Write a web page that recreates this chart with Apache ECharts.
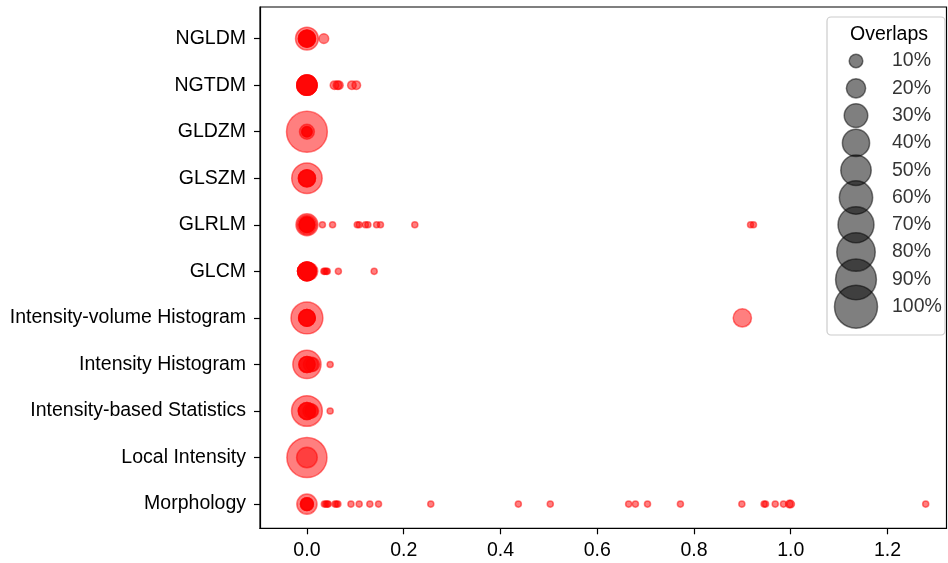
<!DOCTYPE html>
<html>
<head>
<meta charset="utf-8">
<script src="https://cdn.jsdelivr.net/npm/echarts@6/dist/echarts.min.js"></script>
<style>html,body{margin:0;padding:0;background:#fff}#c{width:948px;height:563px}</style>
</head>
<body>
<div id="c"></div>
<script>
// Categories bottom -> top
const categories = ['Morphology','Local Intensity','Intensity-based Statistics','Intensity Histogram','Intensity-volume Histogram','GLCM','GLRLM','GLSZM','GLDZM','NGTDM','NGLDM'];

// Each point: [value, overlap %]
const morphology = [[0,22],[0,9],[0,9],[0,9],[0,8],
  [0.036,2],[0.039,2],[0.042,2],[0.044,2],[0.058,2],[0.061,2],[0.064,2],[0.091,2],[0.108,2],[0.130,2],[0.148,2],[0.256,2],
  [0.437,2],[0.503,2],[0.665,2],[0.679,2],[0.704,2],[0.772,2],[0.899,2],[0.945,2],[0.948,2],[0.968,2],[0.985,2],[0.997,3],[1.0,3],[1.279,2]];
const localIntensity = [[0,87],[0,23]];
const intensityStats = [[0,51],[0,16],[0,16],[0,16],[0.007,12],[0.010,10],[0.048,2]];
const intensityHist = [[0,43],[0,14],[0,14],[0,14],[0.008,12],[0.012,10],[0.048,2]];
const ivh = [[0,55],[0,15],[0,15],[0,15],[0,15],[0.9,18]];
const glcm = [[0,19],[0,19],[0,19],[0,19],[0,19],[0.004,17],[0.035,2],[0.037,2],[0.040,2],[0.042,2],[0.065,2],[0.139,2]];
const glrlm = [[0,26],[0,20],[0,13],[0,13],[0,13],[0,13],[0.032,2],[0.053,2],[0.104,2],[0.108,2],[0.121,2],[0.126,2],[0.144,2],[0.152,2],[0.223,2],[0.917,2],[0.923,2]];
const glszm = [[0,50],[0,16],[0,16],[0,15],[0,15]];
const gldzm = [[0,90],[0,12],[0,6],[0,6],[0,5]];
const ngtdm = [[0,22],[0,22],[0,22],[0,22],[0,22],[0.057,4],[0.063,4],[0.066,4],[0.093,4],[0.102,4]];
const ngldm = [[0,28],[0,16],[0,16],[0,15],[0,15],[0,14],[0.035,5]];

const rows = [morphology, localIntensity, intensityStats, intensityHist, ivh, glcm, glrlm, glszm, gldzm, ngtdm, ngldm];

const xTicks = [0,0.2,0.4,0.6,0.8,1.0,1.2];
const legendLevels = [10,20,30,40,50,60,70,80,90,100];
const legendTitle = 'Overlaps';

const sizeOf = p => 4.3 * Math.sqrt(p);
const FONT = '"Liberation Sans", Arial, sans-serif';
const FS = 19.5;

const mainData = [];
rows.forEach((row, yi) => row.forEach(pt => mainData.push([pt[0], yi, pt[1]])));
const yTicks = categories.map((c, i) => i);

const chart = echarts.init(document.getElementById('c'), null, {renderer: 'canvas'});
chart.setOption({
  animation: false,
  textStyle: {fontFamily: FONT},
  grid: [
    {left: 260, right: 1.5, top: 7, bottom: 34.7, show: true, borderColor: '#000', borderWidth: 1.2, backgroundColor: 'transparent'},
    {left: 856, width: 1, top: 61, height: 245.7}
  ],
  xAxis: [
    {type: 'value', gridIndex: 0, min: -0.097, max: 1.322,
     axisLine: {show: true, onZero: false, lineStyle: {color: '#000', width: 1.2}},
     axisTick: {show: true, inside: false, length: 6, lineStyle: {color: '#000', width: 1.2}, customValues: xTicks},
     axisLabel: {customValues: xTicks, formatter: v => Number(v).toFixed(1), fontSize: FS, color: '#000', margin: 12, fontFamily: FONT},
     splitLine: {show: false}},
    {type: 'value', gridIndex: 1, min: 0, max: 1, show: false}
  ],
  yAxis: [
    {type: 'value', gridIndex: 0, min: -0.52, max: 10.68,
     axisLine: {show: true, onZero: false, lineStyle: {color: '#000', width: 1.2}},
     axisTick: {show: true, inside: false, length: 6, lineStyle: {color: '#000', width: 1.2}, customValues: yTicks},
     axisLabel: {customValues: yTicks, formatter: v => categories[Math.round(v)], fontSize: FS, color: '#000', margin: 14, fontFamily: FONT, padding: [5, 0, 0, 0]},
     splitLine: {show: false}},
    {type: 'value', gridIndex: 1, min: 0, max: 9, inverse: true, show: false}
  ],
  graphic: [
    {type: 'rect', z: 3, shape: {x: 827, y: 17, width: 118, height: 318, r: 4},
     style: {fill: 'rgba(255,255,255,0.8)', stroke: '#cccccc', lineWidth: 1.2}},
    {type: 'text', z: 6, x: 889, y: 35, style: {text: legendTitle, fontSize: FS, fontFamily: FONT, fill: '#000', align: 'center', verticalAlign: 'middle'}}
  ],
  series: [
    {type: 'scatter', xAxisIndex: 0, yAxisIndex: 0, z: 2, data: mainData,
     symbolSize: v => sizeOf(v[2]),
     itemStyle: {color: 'rgba(255,0,0,0.5)', borderColor: 'rgba(255,0,0,0.5)', borderWidth: 1.5, opacity: 1},
     emphasis: {disabled: true}},
    {type: 'scatter', xAxisIndex: 1, yAxisIndex: 1, z: 5,
     data: legendLevels.map((p, i) => [0, i, p]),
     symbolSize: v => sizeOf(v[2]),
     itemStyle: {color: 'rgba(0,0,0,0.5)', borderColor: 'rgba(0,0,0,0.5)', borderWidth: 1.5, opacity: 1},
     emphasis: {disabled: true}},
    {type: 'scatter', xAxisIndex: 1, yAxisIndex: 1, z: 6,
     data: legendLevels.map((p, i) => [0, i, p]),
     symbolSize: 1,
     itemStyle: {color: 'rgba(0,0,0,0)'},
     label: {show: true, position: 'right', distance: 35.5, formatter: p => p.value[2] + '%', fontSize: FS, color: '#000', fontFamily: FONT, padding: [6, 0, 0, 0]},
     emphasis: {disabled: true}}
  ]
});
</script>
</body>
</html>
